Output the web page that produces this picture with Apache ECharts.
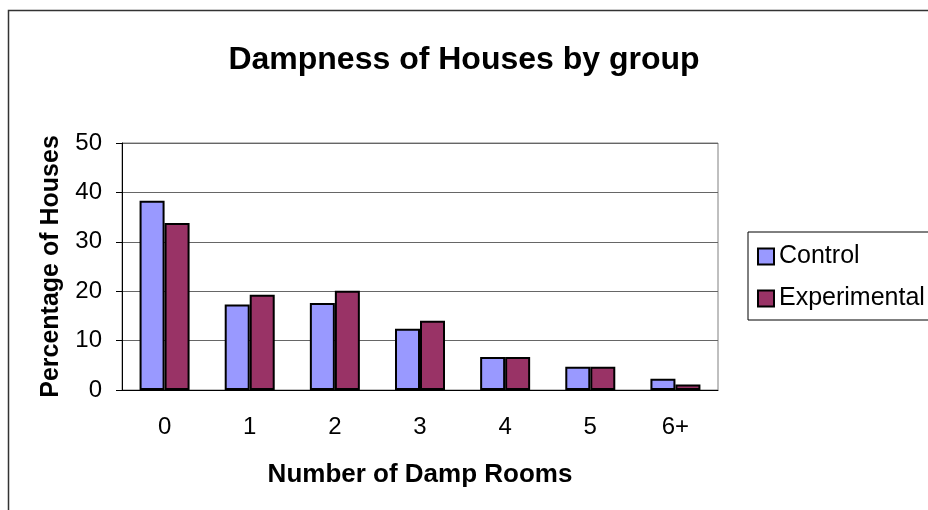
<!DOCTYPE html>
<html>
<head>
<meta charset="utf-8">
<script src="https://cdn.jsdelivr.net/npm/echarts@6/dist/echarts.min.js"></script>
<style>
  html, body { margin: 0; padding: 0; background: #fff; }
  #chart { width: 928px; height: 510px; }
</style>
</head>
<body>
<div id="chart"></div>
<script>
// data
var rooms = ["0", "1", "2", "3", "4", "5", "6+"];
var control = [38.3, 17.3, 17.6, 12.4, 6.7, 4.7, 2.3];
var experimental = [33.8, 19.3, 20.1, 14.0, 6.7, 4.7, 1.1];
var seriesNames = ["Control", "Experimental"];

var font = "Liberation Sans, Arial, sans-serif";

var myChart = echarts.init(document.getElementById("chart"));

myChart.setOption({
  backgroundColor: "#fff",
  animation: false,
  title: {
    text: "Dampness of Houses by group",
    left: "center",
    top: 39,
    textStyle: {
      fontFamily: font,
      fontSize: 32,
      fontWeight: "bold",
      color: "#000"
    }
  },
  legend: {
    data: seriesNames,
    orient: "vertical",
    left: 748,
    top: 232,
    padding: [12, 40, 9, 9],
    itemGap: 17,
    itemWidth: 16,
    itemHeight: 16,
    icon: "rect",
    borderColor: "#000",
    borderWidth: 1,
    backgroundColor: "#fff",
    textStyle: {
      fontFamily: font,
      fontSize: 25,
      color: "#000"
    }
  },
  graphic: [
    {
      type: "rect",
      shape: { x: 8.5, y: 10.5, width: 1000, height: 600 },
      style: { fill: "none", stroke: "#333", lineWidth: 1.5 },
      silent: true
    }
  ],
  grid: {
    left: 122,
    top: 143,
    width: 596,
    height: 247,
    show: true,
    borderColor: "#808080",
    borderWidth: 1,
    backgroundColor: "#fff"
  },
  xAxis: {
    type: "category",
    data: rooms,
    name: "Number of Damp Rooms",
    nameLocation: "middle",
    nameGap: 72,
    nameTextStyle: {
      fontFamily: font,
      fontSize: 26,
      fontWeight: "bold",
      color: "#000"
    },
    axisLine: { lineStyle: { color: "#000", width: 1 } },
    axisTick: { length: 6, lineStyle: { color: "#000" } },
    axisLabel: {
      margin: 25,
      fontFamily: font,
      fontSize: 24,
      color: "#000"
    }
  },
  yAxis: {
    type: "value",
    min: 0,
    max: 50,
    interval: 10,
    name: "Percentage of Houses",
    nameLocation: "middle",
    nameGap: 58,
    nameTextStyle: {
      fontFamily: font,
      fontSize: 25,
      fontWeight: "bold",
      color: "#000"
    },
    axisLine: { show: true, lineStyle: { color: "#000", width: 1 } },
    axisTick: { show: true, length: 6, lineStyle: { color: "#000" } },
    axisLabel: {
      margin: 20,
      fontFamily: font,
      fontSize: 24,
      color: "#000"
    },
    splitLine: { lineStyle: { color: "#666", width: 1 } }
  },
  series: [
    {
      name: seriesNames[0],
      type: "bar",
      data: control,
      barWidth: 25,
      barGap: "0%",
      itemStyle: { color: "#9999ff", borderColor: "#000", borderWidth: 2 }
    },
    {
      name: seriesNames[1],
      type: "bar",
      data: experimental,
      barWidth: 25,
      barGap: "0%",
      itemStyle: { color: "#993366", borderColor: "#000", borderWidth: 2 }
    }
  ]
});
</script>
</body>
</html>
